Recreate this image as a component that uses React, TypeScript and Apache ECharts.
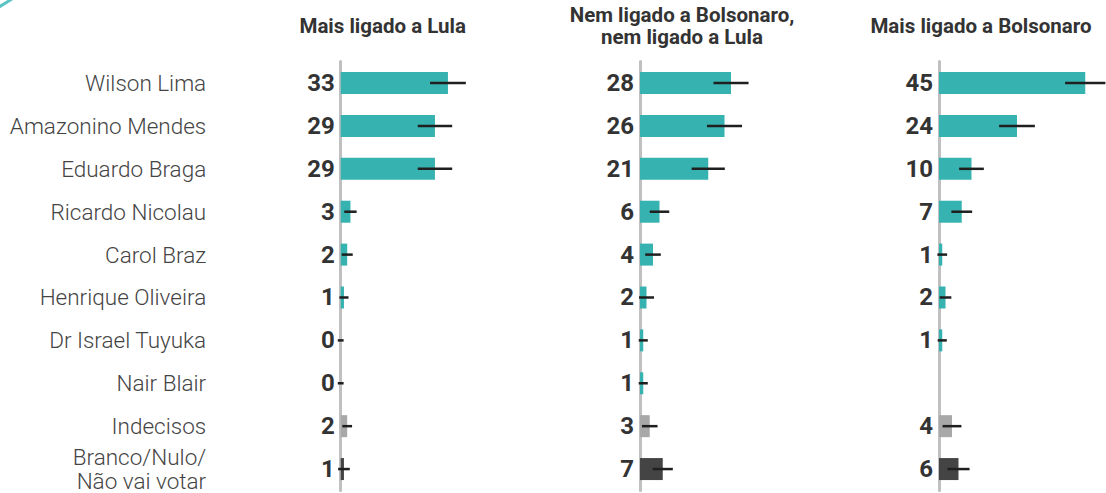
import React, { useEffect, useRef } from "react";
import * as echarts from "echarts";

const categories = [
  "Wilson Lima",
  "Amazonino Mendes",
  "Eduardo Braga",
  "Ricardo Nicolau",
  "Carol Braz",
  "Henrique Oliveira",
  "Dr Israel Tuyuka",
  "Nair Blair",
  "Indecisos",
  "Branco/Nulo/\nNão vai votar",
];

const panelTitles = [
  "Mais ligado a Lula",
  "Nem ligado a Bolsonaro,\nnem ligado a Lula",
  "Mais ligado a Bolsonaro",
];

const lulaValues = [33, 29, 29, 3, 2, 1, 0, 0, 2, 1];
const lulaMargins = [5.5, 5.3, 5.3, 1.9, 1.7, 1.4, 0.9, 0.9, 1.5, 1.8];

const neitherValues = [28, 26, 21, 6, 4, 2, 1, 1, 3, 7];
const neitherMargins = [5.4, 5.4, 5.1, 3.0, 2.4, 2.3, 1.4, 1.4, 2.4, 3.1];

const bolsonaroValues: (number | null)[] = [45, 24, 10, 7, 1, 2, 1, null, 4, 6];
const bolsonaroMargins: (number | null)[] = [6.2, 5.5, 3.8, 3.2, 1.5, 1.8, 1.4, null, 2.9, 3.4];

const rowColors = [
  "#36b3b0", "#36b3b0", "#36b3b0", "#36b3b0", "#36b3b0",
  "#36b3b0", "#36b3b0", "#36b3b0", "#a8a8a8", "#444444",
];

const panels = [
  { values: lulaValues, margins: lulaMargins },
  { values: neitherValues, margins: neitherMargins },
  { values: bolsonaroValues, margins: bolsonaroMargins },
];

const gridLefts = [340.7, 640, 939];
const X_MAX = 50;
const PX_PER_UNIT = 3.25;

export default function App() {
  const ref = useRef<HTMLDivElement>(null);

  useEffect(() => {
    if (!ref.current) return;
    const chart = echarts.init(ref.current, undefined, { renderer: "svg" });

    const grids = gridLefts.map((left) => ({
      left,
      top: 61.6,
      width: X_MAX * PX_PER_UNIT,
      height: 428.9,
      containLabel: false,
    }));

    const xAxes = gridLefts.map((_, i) => ({
      type: "value",
      gridIndex: i,
      min: 0,
      max: X_MAX,
      show: false,
    }));

    const yAxes = gridLefts.map((_, i) => ({
      type: "category",
      gridIndex: i,
      data: categories,
      inverse: true,
      offset: 1.5,
      axisLine: { show: true, lineStyle: { color: "#c0c0c0", width: 3 } },
      axisTick: { show: false },
      splitLine: { show: false },
      axisLabel:
        i === 0
          ? {
              show: true,
              margin: 133,
              fontFamily: "Roboto",
              fontWeight: 300,
              fontSize: 22.5,
              color: "#444",
              lineHeight: 23.5,
              align: "right",
            }
          : { show: false },
    }));

    const series: any[] = [];
    panels.forEach((p, i) => {
      series.push({
        type: "bar",
        xAxisIndex: i,
        yAxisIndex: i,
        barWidth: 22,
        data: p.values.map((v, k) =>
          v === null ? "-" : { value: v, itemStyle: { color: rowColors[k] } }
        ),
        label: {
          show: true,
          position: "left",
          distance: 6,
          fontFamily: "Roboto",
          fontWeight: "bold",
          fontSize: 24,
          color: "#333",
        },
        z: 2,
      });
      series.push({
        type: "custom",
        xAxisIndex: i,
        yAxisIndex: i,
        clip: false,
        z: 3,
        encode: { x: [1, 2], y: 0 },
        data: p.values
          .map((v, k) =>
            v === null || p.margins[k] === null
              ? null
              : [k, v - (p.margins[k] as number), v + (p.margins[k] as number)]
          )
          .filter((d) => d !== null),
        renderItem: (params: any, api: any) => {
          const c = api.value(0);
          const a = api.coord([api.value(1), c]);
          const b = api.coord([api.value(2), c]);
          return {
            type: "line",
            shape: { x1: a[0], y1: a[1], x2: b[0], y2: b[1] },
            style: { stroke: "#1f1f1f", lineWidth: 2.5 },
          };
        },
        silent: true,
      });
    });

    const titleGraphics = panelTitles.map((t, i) => ({
      type: "text",
      x: gridLefts[i] + 42,
      y: 26,
      style: {
        text: t,
        align: "center",
        verticalAlign: "middle",
        fontFamily: "Roboto",
        fontWeight: "bold",
        fontSize: 20.5,
        lineHeight: 22.5,
        fill: "#333",
      },
    }));

    chart.setOption({
      animation: false,
      backgroundColor: "#ffffff",
      grid: grids,
      xAxis: xAxes,
      yAxis: yAxes,
      series,
      graphic: [
        ...titleGraphics,
        {
          type: "line",
          shape: { x1: -1, y1: 7, x2: 12, y2: -1 },
          style: { stroke: "#5cc4c2", lineWidth: 3 },
        },
      ],
    });

    return () => chart.dispose();
  }, []);

  return (
    <div
      ref={ref}
      style={{ position: "fixed", left: 0, top: 0, width: 1106, height: 493 }}
    />
  );
}
